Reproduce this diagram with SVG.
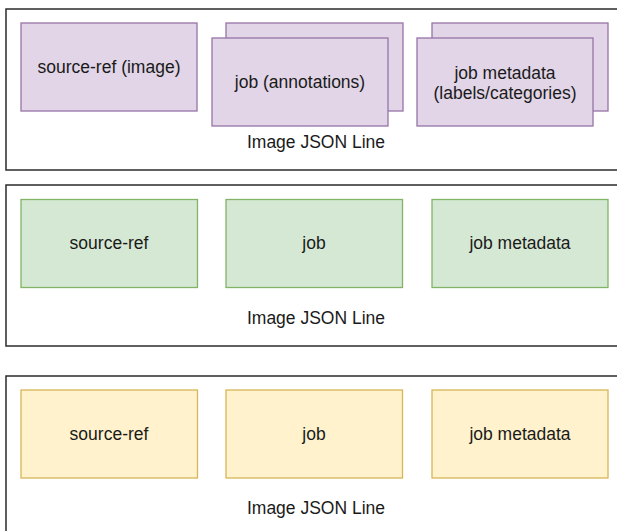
<svg xmlns="http://www.w3.org/2000/svg" width="617" height="531" viewBox="0 0 617 531">
<style>
.container{fill:#ffffff;stroke:#2b2b2b;stroke-width:1.5}
.purple{fill:#e1d5e7;stroke:#9673a6;stroke-width:1.3}
.green{fill:#d5e8d4;stroke:#82b366;stroke-width:1.3}
.yellow{fill:#fff2cc;stroke:#d6b656;stroke-width:1.3}
text{font-family:"Liberation Sans",Arial,Helvetica,sans-serif;font-size:17.5px;fill:#1a1a1a;text-anchor:middle;dominant-baseline:central}
</style>
<rect width="617" height="531" fill="#ffffff"/>
<g id="container-top">
<rect class="container" x="6" y="9" width="620" height="161"/>
<text x="316" y="142">Image JSON Line</text>
</g>
<g id="container-middle">
<rect class="container" x="6" y="185" width="620" height="161"/>
<text x="316" y="318">Image JSON Line</text>
</g>
<g id="container-bottom">
<rect class="container" x="6" y="376" width="620" height="180"/>
<text x="316" y="508">Image JSON Line</text>
</g>
<g id="top-source-ref">
<rect class="purple" x="21" y="23" width="176" height="88"/>
<text x="109" y="67">source-ref (image)</text>
</g>
<g id="top-job">
<rect class="purple" x="226" y="23" width="177" height="88"/>
<rect class="purple" x="212" y="38" width="176" height="88"/>
<text x="300" y="82">job (annotations)</text>
</g>
<g id="top-job-metadata">
<rect class="purple" x="432" y="23" width="176" height="88"/>
<rect class="purple" x="417" y="38" width="176" height="88"/>
<text x="505" y="73">job metadata</text>
<text x="505" y="93">(labels/categories)</text>
</g>
<g id="mid-source-ref">
<rect class="green" x="21" y="199.5" width="176.5" height="88"/>
<text x="109" y="243">source-ref</text>
</g>
<g id="mid-job">
<rect class="green" x="226" y="199.5" width="176.5" height="88"/>
<text x="314" y="243">job</text>
</g>
<g id="mid-job-metadata">
<rect class="green" x="432" y="199.5" width="176" height="88"/>
<text x="520" y="243">job metadata</text>
</g>
<g id="bot-source-ref">
<rect class="yellow" x="21" y="390" width="176.5" height="88"/>
<text x="109" y="434">source-ref</text>
</g>
<g id="bot-job">
<rect class="yellow" x="226" y="390" width="176.5" height="88"/>
<text x="314" y="434">job</text>
</g>
<g id="bot-job-metadata">
<rect class="yellow" x="432" y="390" width="176" height="88"/>
<text x="520" y="434">job metadata</text>
</g>
<g id="connectors"/>
</svg>
